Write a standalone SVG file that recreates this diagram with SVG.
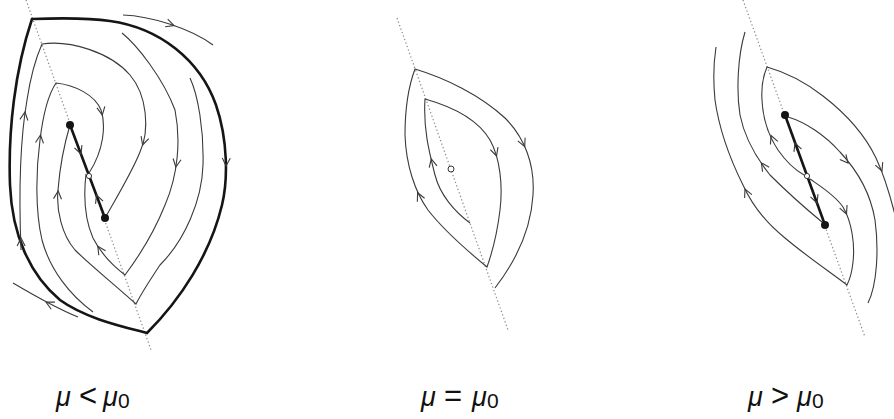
<svg xmlns="http://www.w3.org/2000/svg" xmlns:xlink="http://www.w3.org/1999/xlink" width="894" height="419" viewBox="0 0 894 419">
<style>
.dot{fill:none;stroke:#8a8a8a;stroke-width:1.2;stroke-dasharray:1.3 2.4}
.thin{fill:none;stroke:#3a3a3a;stroke-width:1.1;stroke-linejoin:miter}
.thick{fill:none;stroke:#151515;stroke-width:2.6;stroke-linejoin:miter}
.arr{fill:none;stroke:#3a3a3a;stroke-width:1.1}
.node{fill:#151515}
.open{fill:#fff;stroke:#333;stroke-width:1}
.lab{font-family:"Liberation Sans",Arial,sans-serif;font-size:27px;fill:#111}
.mu{font-style:italic}
.rel{font-size:31px}
</style>
<defs>
<path id="ar" class="arr" d="M-8,-4 L0,0 L-8,4"/>
</defs>
<rect width="894" height="419" fill="#fff"/>

<g id="panel-left">
<path class="dot" d="M26,0 L151,350"/>
<path class="thick" d="M32,19 C60,18 90,18 110,21 C160,28 200,60 216,105 C228,140 228,180 222,205 C210,255 180,300 147,333 C120,326 85,318 60,300 C30,275 12,235 10,185 C8,130 15,70 32,19 Z"/>
<path class="thin" d="M123,15 C150,16 190,28 213,45"/>
<path class="thin" d="M78,317 C58,309 35,296 13,283"/>
<path class="thin" d="M21,250 C19,200 20,140 27,100 C30,80 35,60 42,44 C70,40 110,52 130,75 C147,95 150,130 140,152 C132,172 118,195 105,218"/>
<path class="thin" d="M93,312 C70,295 50,270 42,240 C35,210 36,170 40,140 C43,115 48,95 56,83 C75,85 95,95 101,110 C106,125 104,150 89,173"/>
<path class="thin" d="M190,78 C198,95 204,130 203,165 C202,200 185,240 160,265 C150,280 142,292 136,304 C115,285 90,265 75,250 C62,235 56,210 58,190 C60,165 64,145 70,125"/>
<path class="thin" d="M122,33 C137,45 163,78 175,110 C181,140 178,175 165,205 C155,230 140,255 125,275 C112,265 100,252 93,238 C86,222 83,200 86,174"/>
<path class="thick" d="M70,125 L105,218"/>
<use xlink:href="#ar" transform="translate(226,166) rotate(92)"/>
<use xlink:href="#ar" transform="translate(174,25.6) rotate(19)"/>
<use xlink:href="#ar" transform="translate(46,302) rotate(207.6)"/>
<use xlink:href="#ar" transform="translate(25,112) rotate(-82)"/>
<use xlink:href="#ar" transform="translate(21,238) rotate(-91)"/>
<use xlink:href="#ar" transform="translate(142.6,145) rotate(107)"/>
<use xlink:href="#ar" transform="translate(40.5,135) rotate(-83)"/>
<use xlink:href="#ar" transform="translate(102.3,115) rotate(80)"/>
<use xlink:href="#ar" transform="translate(58.2,191) rotate(-85)"/>
<use xlink:href="#ar" transform="translate(175.8,167) rotate(99)"/>
<use xlink:href="#ar" transform="translate(97.8,246.3) rotate(237)"/>
<use xlink:href="#ar" transform="translate(81,154) rotate(69.4)"/>
<use xlink:href="#ar" transform="translate(96.5,195) rotate(249.4)"/>
<circle class="node" cx="70" cy="125" r="4"/>
<circle class="node" cx="105" cy="218" r="4"/>
<circle class="open" cx="89" cy="176" r="2.6"/>
</g>

<g id="panel-middle">
<path class="dot" d="M397,18 L508,330"/>
<path class="thin" d="M470,223 C455,212 440,195 435,175 C430,155 423,130 425,99 C450,106 477,118 490,140 C500,158 503,185 500,210 C497,235 492,253 487,267 C470,253 445,232 428,210 C415,192 406,165 405,135 C405,110 409,85 415,69 C445,78 480,95 505,118 C525,138 535,165 533,195 C531,230 515,262 495,288"/>
<use xlink:href="#ar" transform="translate(431.3,159) rotate(-103)"/>
<use xlink:href="#ar" transform="translate(496.5,156) rotate(73)"/>
<use xlink:href="#ar" transform="translate(417.6,192.7) rotate(-115)"/>
<use xlink:href="#ar" transform="translate(524.7,146.6) rotate(66)"/>
<circle class="open" cx="451" cy="169" r="3"/>
</g>

<g id="panel-right">
<path class="dot" d="M743,0 L865,337"/>
<path class="thin" d="M804,175 C795,170 785,160 778,150 C770,138 763,120 762,100 C761,85 764,74 767,67 C785,72 805,82 823,96 C845,113 865,135 876,158 C884,175 890,195 895,215"/>
<path class="thin" d="M810,179 C820,186 835,195 843,207 C852,222 855,245 853,262 C852,272 850,279 847,285 C830,272 805,255 785,238 C765,222 752,205 743,185 C733,165 720,135 715,100 C713,80 714,60 716,47"/>
<path class="thin" d="M745,32 C738,55 736,90 740,115 C745,140 758,160 770,175 C785,190 805,208 822,222"/>
<path class="thin" d="M788,117 C805,122 825,135 840,152 C855,168 870,190 875,220 C879,250 877,285 868,303"/>
<path class="thick" d="M785,115 L825,225"/>
<use xlink:href="#ar" transform="translate(771,135.5) rotate(-113)"/>
<use xlink:href="#ar" transform="translate(882,171) rotate(68)"/>
<use xlink:href="#ar" transform="translate(846.5,214) rotate(67)"/>
<use xlink:href="#ar" transform="translate(745,189) rotate(-114)"/>
<use xlink:href="#ar" transform="translate(761.4,162.9) rotate(-124)"/>
<use xlink:href="#ar" transform="translate(848,163) rotate(50)"/>
<use xlink:href="#ar" transform="translate(795,143) rotate(-110)"/>
<use xlink:href="#ar" transform="translate(817,203) rotate(70)"/>
<circle class="node" cx="785" cy="115" r="4"/>
<circle class="node" cx="825" cy="225" r="4"/>
<circle class="open" cx="807" cy="176" r="2.6"/>
</g>

<g id="labels">
<text class="lab" y="406"><tspan class="mu" x="56">μ</tspan><tspan class="rel" x="79">&lt;</tspan><tspan class="mu" x="103">μ</tspan><tspan x="118" dy="2" font-size="21">0</tspan></text>
<text class="lab" y="406"><tspan class="mu" x="421">μ</tspan><tspan class="rel" x="444">=</tspan><tspan class="mu" x="472">μ</tspan><tspan x="487" dy="2" font-size="21">0</tspan></text>
<text class="lab" y="406"><tspan class="mu" x="748">μ</tspan><tspan class="rel" x="771">&gt;</tspan><tspan class="mu" x="797">μ</tspan><tspan x="812" dy="2" font-size="21">0</tspan></text>
</g>
</svg>
